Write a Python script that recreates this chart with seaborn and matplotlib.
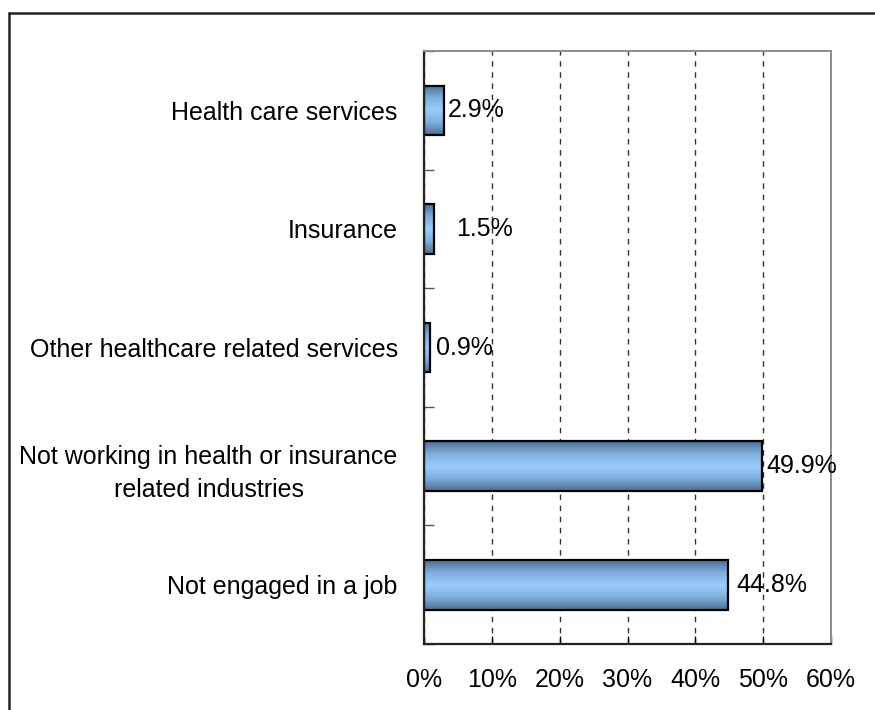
import numpy as np
import pandas as pd
import matplotlib
matplotlib.use("Agg")
import matplotlib.pyplot as plt
import seaborn as sns
from matplotlib.colors import LinearSegmentedColormap
from matplotlib.lines import Line2D

# Industry of employment, share of respondents (%)
categories = [
    "Health care services",
    "Insurance",
    "Other healthcare related services",
    "Not working in health or insurance\nrelated industries",
    "Not engaged in a job",
]
shares = [2.9, 1.5, 0.9, 49.9, 44.8]
value_labels = ["2.9%", "1.5%", "0.9%", "49.9%", "44.8%"]
x_ticks = [0, 10, 20, 30, 40, 50, 60]
x_tick_labels = ["0%", "10%", "20%", "30%", "40%", "50%", "60%"]

df = pd.DataFrame({"category": categories, "share": shares})

sns.set_theme(style="white")
plt.rcParams["font.family"] = ["Liberation Sans", "DejaVu Sans"]
plt.rcParams["text.color"] = "black"
plt.rcParams["xtick.labelcolor"] = "black"
plt.rcParams["ytick.labelcolor"] = "black"

fig = plt.figure(figsize=(8.75, 7.1), dpi=100)
ax = fig.add_axes([0.4846, 0.093, 0.4651, 0.835])

sns.barplot(data=df, x="share", y="category", orient="h", ax=ax,
            color="#99CCFF", edgecolor="black", linewidth=1.6, width=0.42,
            saturation=1)

# vertical shading inside each bar: darker at top/bottom edges, light in the middle
shade = LinearSegmentedColormap.from_list(
    "shade", ["#4D6E91", "#7FAEDD", "#99CCFF", "#7FAEDD", "#4D6E91"])
grad = np.linspace(0, 1, 256).reshape(-1, 1)
ax.set_xlim(0, 60)
ax.set_ylim(4.5, -0.5)
for patch in ax.patches:
    x0, y0 = patch.get_x(), patch.get_y()
    w, h = patch.get_width(), patch.get_height()
    im = ax.imshow(grad, cmap=shade, aspect="auto",
                   extent=(x0, x0 + w, y0 + h, y0), zorder=patch.get_zorder(),
                   interpolation="bilinear")
    im.set_clip_path(patch)
    patch.set_facecolor("none")
    patch.set_zorder(patch.get_zorder() + 0.1)
ax.set_xlim(0, 60)
ax.set_ylim(4.5, -0.5)

# value labels to the right of each bar
label_offsets = [3, 16, 4, 3, 6]
for i, (v, lab) in enumerate(zip(shares, value_labels)):
    ax.annotate(lab, xy=(v, i), xytext=(label_offsets[i], 0),
                textcoords="offset points", va="center", ha="left",
                fontsize=18, color="black")

# axes styling
ax.set_xlabel("")
ax.set_ylabel("")
ax.set_xticks(x_ticks)
ax.set_xticklabels(x_tick_labels, fontsize=18)
ax.tick_params(axis="x", direction="in", length=6, width=1, color="black",
               pad=17, bottom=True)
ax.tick_params(axis="y", which="major", length=0, pad=19, labelsize=18)
ax.set_yticks(np.arange(-0.5, 5.0, 1.0), minor=True)
ax.tick_params(axis="y", which="minor", direction="in", length=7, width=1,
               color="#555555", left=True)
for lbl in ax.get_yticklabels():
    lbl.set_multialignment("center")
    lbl.set_linespacing(1.5)
    lbl.set_color("black")
for lbl in ax.get_xticklabels():
    lbl.set_color("black")

ax.grid(axis="x", color="#333333", linestyle=(0, (4, 4)), linewidth=1.0)
ax.grid(axis="y", visible=False)
ax.set_axisbelow(True)

for side in ["left", "bottom"]:
    ax.spines[side].set_color("#222222")
    ax.spines[side].set_linewidth(1.6)
for side in ["top", "right"]:
    ax.spines[side].set_color("#8C8C8C")
    ax.spines[side].set_linewidth(1.4)
    ax.spines[side].set_visible(True)

# outer frame around the chart area
fig.add_artist(Line2D([8.5 / 875, 8.5 / 875], [0, 1 - 12.5 / 710],
                      transform=fig.transFigure, color="#222222", linewidth=1.8))
fig.add_artist(Line2D([8.5 / 875, 1], [1 - 12.5 / 710, 1 - 12.5 / 710],
                      transform=fig.transFigure, color="#222222", linewidth=1.8))

fig.savefig("out.png", dpi=100, facecolor="white")
